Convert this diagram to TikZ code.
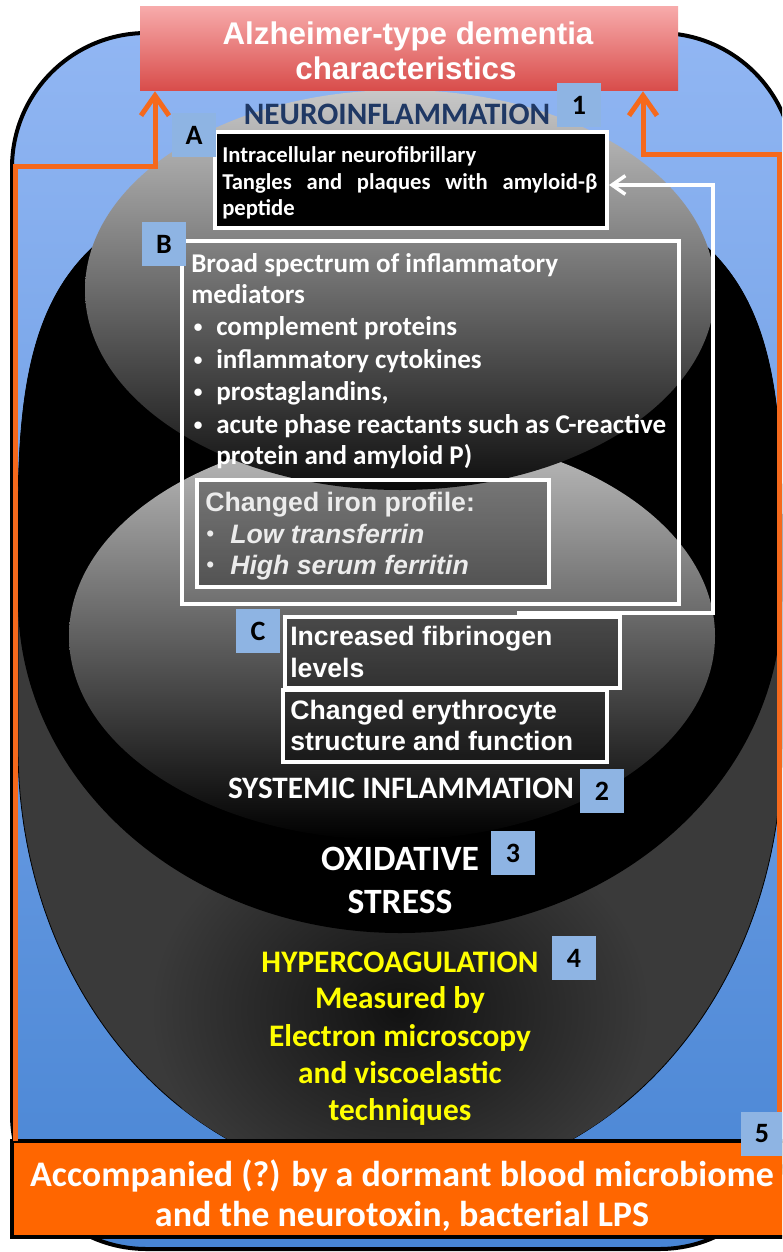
\documentclass[tikz,border=0pt]{standalone}
\usepackage{fontspec}
\setmainfont{Carlito}
\newfontfamily\arialf{Liberation Sans}
\usetikzlibrary{arrows.meta,calc}

\definecolor{bluetop}{RGB}{145,182,243}
\definecolor{bluebot}{RGB}{72,133,212}
\definecolor{labelblue}{RGB}{142,180,227}
\definecolor{titletop}{RGB}{247,170,170}
\definecolor{titlebot}{RGB}{216,76,74}
\definecolor{orangebox}{RGB}{255,102,0}
\definecolor{orangeline}{RGB}{245,105,28}
\definecolor{navy}{RGB}{31,56,100}
\definecolor{hyellow}{RGB}{255,255,0}
\definecolor{irontext}{RGB}{236,236,236}
\definecolor{shpin}{RGB}{18,18,18}
\definecolor{shpout}{RGB}{58,58,58}
\definecolor{eonetop}{RGB}{200,200,200}
\definecolor{eonebot}{RGB}{14,14,14}
\definecolor{etwotop}{RGB}{192,192,192}
\definecolor{etwobot}{RGB}{0,0,0}

\def\shapefour{(400,170) .. controls (60,170) and (18,290) .. (18,520) -- (18,747)
  .. controls (18,990) and (185,1185) .. (400,1185)
  .. controls (615,1185) and (782,990) .. (782,747) -- (782,520)
  .. controls (782,290) and (740,170) .. (400,170) -- cycle}

\begin{document}
\begin{tikzpicture}[x=0.75pt,y=-0.75pt,
  every node/.style={inner sep=0pt},
  lbl/.style={fill=labelblue, minimum width=33pt, minimum height=33pt, text=black, font=\bfseries\fontsize{21}{21}\selectfont},
  wbox/.style={draw=white, line width=3pt, rectangle},
  oarr/.style={draw=orangeline, line width=3.75pt, -{Straight Barb[length=15pt,width=21pt]}},
  warr/.style={draw=white, line width=2.6pt, -{Straight Barb[length=10pt,width=14pt]}},
  ttl/.style={font=\arialf\bfseries\fontsize{23.5}{28}\selectfont, text=white, anchor=base},
  hd/.style={font=\bfseries\fontsize{23.4}{28}\selectfont, anchor=base},
  atx/.style={font=\bfseries\fontsize{17}{20}\selectfont, text=white, anchor=base west},
  btx/.style={font=\bfseries\fontsize{20.3}{24}\selectfont, text=white, anchor=base west},
  itx/.style={font=\arialf\bfseries\fontsize{20}{24}\selectfont, text=irontext, anchor=base west},
  ctx/.style={font=\arialf\bfseries\fontsize{20}{24}\selectfont, text=white, anchor=base west},
  ytx/.style={font=\bfseries\fontsize{23.5}{28}\selectfont, text=hyellow, anchor=base},
  btm/.style={font=\bfseries\fontsize{27}{32}\selectfont, text=white, anchor=base}
]
\newcommand\bul{\raisebox{1.6pt}{\fontsize{14}{14}\selectfont$\bullet$}}
\useasboundingbox (0,0) rectangle (782,1252);
\clip (0,0) rectangle (782,1252);
\fill[white] (0,0) rectangle (782,1252);

% outer rounded box
\shadedraw[top color=bluetop, bottom color=bluebot, draw=black, line width=3pt, rounded corners=101pt]
  (12,33) rectangle (794,1249);

% hypercoagulation shape (4)
\filldraw[fill=shpout, draw=black, line width=0.6pt] \shapefour;
\begin{scope}
  \clip \shapefour;
  \shade[inner color=shpin, outer color=shpout] (400,1010) ellipse [x radius=250, y radius=200];
\end{scope}

% oxidative stress shape (3)
\fill[black]
  (400,170) .. controls (60,170) and (18,290) .. (18,520) -- (18,600)
  .. controls (18,784) and (189,933) .. (400,933)
  .. controls (611,933) and (782,784) .. (782,600) -- (782,520)
  .. controls (782,290) and (740,170) .. (400,170) -- cycle;

% systemic inflammation (2)
\shade[top color=etwotop, bottom color=etwobot] (392,636) ellipse [x radius=323, y radius=204];
% neuroinflammation (1)
\shade[top color=eonetop, bottom color=eonebot] (400,290) ellipse [x radius=315, y radius=200];

% boxes
\node[draw=black, line width=3pt, fill=orangebox, minimum width=591pt, minimum height=72pt] (bottombox) at (406,1189) {};
\node[wbox, fill=black, minimum width=294pt, minimum height=72pt] (Abox) at (411,180) {};
\node[wbox, minimum width=372.75pt, minimum height=272.25pt] (Bbox) at (430.5,422.5) {};
\node[wbox, fill=black, fill opacity=0.3, minimum width=264pt, minimum height=80.25pt] (Ironbox) at (373,533.5) {};
\node[wbox, fill=black, fill opacity=0.3, minimum width=251.25pt, minimum height=53.25pt] (C1) at (452.5,652.5) {};
\node[wbox, fill=black, fill opacity=0.3, minimum width=243pt, minimum height=54pt] (C2) at (445,726) {};

% orange arrows to the title
\node[top color=titletop, bottom color=titlebot, minimum width=403.5pt, minimum height=63pt] (title) at (409,49) {};
\coordinate (oLb) at (15,1141);
\coordinate (oLt) at (155,167);
\coordinate (oRb) at (779,1141);
\coordinate (oRt) at (643,155);
\draw[oarr] (oLb) |- (oLt) -- (oLt |- title.south);
\draw[oarr] (oRb) |- (oRt) -- (oRt |- title.south);

% white arrow from C to A
\coordinate (wS) at (517,613);
\coordinate (wC) at (713,185);
\draw[warr] (wS) -| (wC) -- (wC -| Abox.east);

% title text
\node[ttl] (tt1) at (408,45) {Alzheimer-type dementia};
\node[ttl] (tt2) at (406,80) {characteristics};

% neuroinflammation
\node[hd, text=navy] (h1) at (397,125) {NEUROINFLAMMATION};
\node[atx] (a1) at (222,163) {Intracellular neurofibrillary};
\node[atx] (a2) at (222,190) {\hbox to 281.25pt{Tangles\hfill and\hfill plaques\hfill with\hfill amyloid-β}};
\node[atx] (a3) at (222,215) {peptide};

% B text
\node[btx] (b1) at (191,272) {Broad spectrum of inflammatory};
\node[btx] (b2) at (191,303) {mediators};
\node[btx] (b3d) at (193,335) {\bul};
\node[btx] (b3) at (216,335) {complement proteins};
\node[btx] (b4d) at (193,368) {\bul};
\node[btx] (b4) at (216,368) {inflammatory cytokines};
\node[btx] (b5d) at (193,400) {\bul};
\node[btx] (b5) at (216,400) {prostaglandins,};
\node[btx] (b6d) at (193,433) {\bul};
\node[btx] (b6) at (216,433) {acute phase reactants such as C-reactive};
\node[btx] (b7) at (216,464) {protein and amyloid P)};

% iron text
\node[itx] (i1) at (205,511) {Changed iron profile:};
\node[itx, font=\arialf\fontsize{17}{18}\selectfont] (i2d) at (206,541) {•};
\node[itx, font=\arialf\bfseries\itshape\fontsize{20}{24}\selectfont] (i2) at (230,543) {Low transferrin};
\node[itx, font=\arialf\fontsize{17}{18}\selectfont] (i3d) at (206,572) {•};
\node[itx, font=\arialf\bfseries\itshape\fontsize{20}{24}\selectfont] (i3) at (230,574) {High serum ferritin};

% C texts
\node[ctx] (c1) at (290,645) {Increased fibrinogen};
\node[ctx] (c2) at (290,677) {levels};
\node[ctx] (c3) at (290,719) {Changed erythrocyte};
\node[ctx] (c4) at (290,750) {structure and function};

% levels 2-4
\node[hd, text=white] (h2) at (401,798) {SYSTEMIC INFLAMMATION};
\node[hd, text=white, font=\bfseries\fontsize{26.7}{30}\selectfont] (h3a) at (400,870) {OXIDATIVE};
\node[hd, text=white, font=\bfseries\fontsize{26.7}{30}\selectfont] (h3b) at (400,913) {STRESS};
\node[ytx] (h4) at (400,972) {HYPERCOAGULATION};
\node[ytx] (y1) at (400,1008) {Measured by};
\node[ytx] (y2) at (400,1046) {Electron microscopy};
\node[ytx] (y3) at (400,1083) {and viscoelastic};
\node[ytx] (y4) at (400,1120) {techniques};

% bottom text
\node[btm] (bt1) at (402,1186) {Accompanied (?) by a dormant blood microbiome};
\node[btm] (bt2) at (402,1226) {and the neurotoxin, bacterial LPS};

% number / letter labels
\node[lbl] (l1) at (579,105) {1};
\node[lbl] (l2) at (602,791) {2};
\node[lbl] (l3) at (513,853) {3};
\node[lbl] (l4) at (574,958) {4};
\node[lbl, minimum width=31pt] (l5) at (762,1134) {5};
\node[lbl] (lA) at (194,135) {A};
\node[lbl] (lB) at (164,244) {B};
\node[lbl] (lC) at (258,631) {C};
\end{tikzpicture}
\end{document}
